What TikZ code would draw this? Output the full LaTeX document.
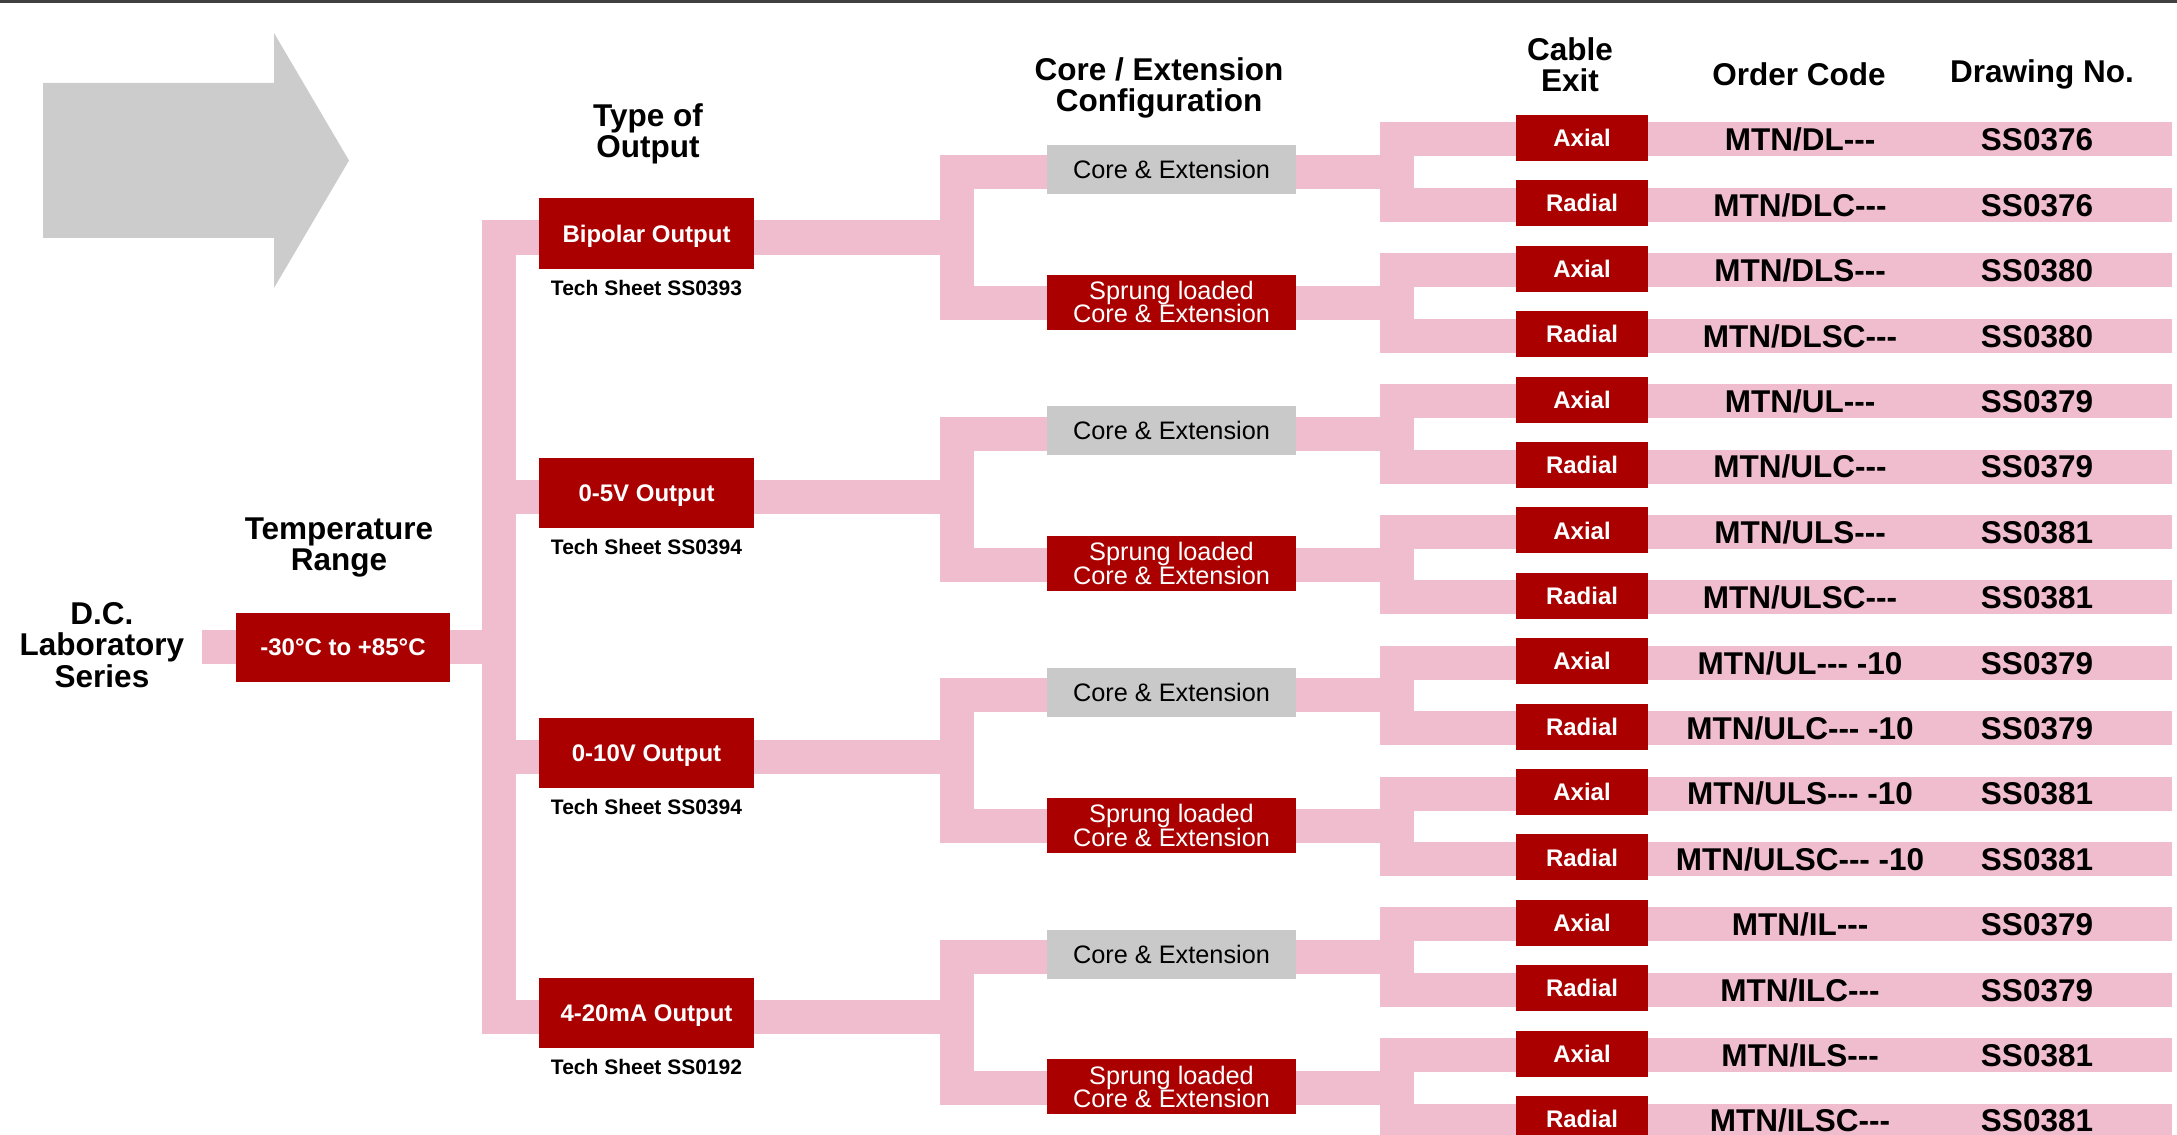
\documentclass[tikz,border=0pt]{standalone}
\usepackage{fontspec}
\setmainfont{Liberation Sans}[Ligatures=TeXOff]
\pgfdeclarelayer{background}
\pgfsetlayers{background,main}
\definecolor{boxred}{RGB}{170,0,0}
\definecolor{barpink}{RGB}{240,189,206}
\definecolor{cfggray}{RGB}{201,201,201}
\definecolor{arrowgray}{RGB}{204,204,204}
\begin{document}
\begin{tikzpicture}[x=0.5pt,y=-0.5pt,
  bar/.style={draw=barpink,line width=17pt,line cap=butt,line join=miter},
  boxtxt/.style={inner sep=0pt,font=\bfseries\fontsize{12}{12}\selectfont,text height=8.6pt,text depth=0pt},
  tempbox/.style={boxtxt,fill=boxred,text=white,minimum width=107pt,minimum height=34.5pt},
  outbox/.style={boxtxt,fill=boxred,text=white,minimum width=107.5pt,minimum height=35pt},
  cablebox/.style={boxtxt,fill=boxred,text=white,minimum width=66pt,minimum height=23pt},
  graybox/.style={inner sep=0pt,fill=cfggray,text=black,font=\fontsize{12.65}{12}\selectfont,text height=9.05pt,text depth=0pt,minimum width=124.5pt,minimum height=24.5pt},
  sprungbox/.style={inner sep=0pt,fill=boxred,text=white,align=center,font=\fontsize{12.65}{11.8}\selectfont,minimum width=124.5pt,minimum height=27.5pt},
  techtxt/.style={inner sep=0pt,font=\bfseries\fontsize{10.5}{10.5}\selectfont,text height=7.5pt,text depth=0pt},
  rowtxt/.style={inner sep=0pt,font=\bfseries\fontsize{15.75}{15.75}\selectfont,text height=11.3pt,text depth=0pt},
  header/.style={inner sep=0pt,anchor=north,align=center,font=\bfseries\fontsize{15.75}{15.75}\selectfont}]
\useasboundingbox (0,0) rectangle (2177,1134);
% top rule
\draw[black!75,line width=1.3pt] (0,1.3) -- (2177,1.3);
% big grey arrow
\fill[arrowgray] (43,83) -- (274,83) -- (274,33) -- (349,160.5) -- (274,288) -- (274,238) -- (43,238) -- cycle;

% headers
\node[header] (hdc) at (102,602) {D.C.\\Laboratory\\Series};
\node[header] (htemp) at (339,517) {Temperature\\Range};
\node[header] (hout) at (648,103) {Type of\\Output};
\node[header] (hcfg) at (1159,57) {Core / Extension\\Configuration};
\node[header] (hcab) at (1570,37) {Cable\\Exit};
\node[header] (hord) at (1799,62) {Order Code};
\node[header] (hdwg) at (2042,59) {Drawing No.};

% temperature
\node[tempbox] (temp) at (343,647) {-30°C to +85°C};
\coordinate (lstart) at (202,647);
\coordinate (trunk) at (498.5,647);

% outputs (bars run 4px below the box centres)
\node[outbox] (out0) at (646.5,233.5) {Bipolar Output};
\node[outbox] (out1) at (646.5,493) {0-5V Output};
\node[outbox] (out2) at (646.5,753) {0-10V Output};
\node[outbox] (out3) at (646.5,1013) {4-20mA Output};
\node[techtxt] (ts0) at (646.5,287.5) {Tech Sheet SS0393};
\node[techtxt] (ts1) at (646.5,547) {Tech Sheet SS0394};
\node[techtxt] (ts2) at (646.5,807) {Tech Sheet SS0394};
\node[techtxt] (ts3) at (646.5,1067) {Tech Sheet SS0192};
\coordinate (cv0) at (956.5,237.5);
\coordinate (cv1) at (956.5,497);
\coordinate (cv2) at (956.5,757);
\coordinate (cv3) at (956.5,1017);

% configurations (grey boxes sit 3px above their bars)
\foreach \k in {0,2,4,6}{
  \pgfmathsetmacro\yy{172.2+130.8*\k}
  \node[graybox] (cfg\k) at (1171.5,\yy-3) {Core \& Extension};
  \coordinate (rv\k) at (1397,\yy);
}
\foreach \k in {1,3,5,7}{
  \pgfmathsetmacro\yy{172.2+130.8*\k}
  \node[sprungbox] (cfg\k) at (1171.5,\yy-1) {Sprung loaded\\Core \& Extension};
  \coordinate (rv\k) at (1397,\yy);
}

% rows
\foreach \i/\cab/\code/\dwg in {
  0/Axial/{MTN/DL---}/SS0376,
  1/Radial/{MTN/DLC---}/SS0376,
  2/Axial/{MTN/DLS---}/SS0380,
  3/Radial/{MTN/DLSC---}/SS0380,
  4/Axial/{MTN/UL---}/SS0379,
  5/Radial/{MTN/ULC---}/SS0379,
  6/Axial/{MTN/ULS---}/SS0381,
  7/Radial/{MTN/ULSC---}/SS0381,
  8/Axial/{MTN/UL--- -10}/SS0379,
  9/Radial/{MTN/ULC--- -10}/SS0379,
  10/Axial/{MTN/ULS--- -10}/SS0381,
  11/Radial/{MTN/ULSC--- -10}/SS0381,
  12/Axial/{MTN/IL---}/SS0379,
  13/Radial/{MTN/ILC---}/SS0379,
  14/Axial/{MTN/ILS---}/SS0381,
  15/Radial/{MTN/ILSC---}/SS0381}{
  \pgfmathsetmacro\yy{139.5+65.4*\i}
  \node[cablebox] (cab\i) at (1582,\yy-1.5) {\cab};
  \node[rowtxt] (oc\i) at (1800,\yy) {\code};
  \node[rowtxt] (dn\i) at (2037,\yy) {\dwg};
  \coordinate (re\i) at (2172,\yy);
}

% connectors
\begin{pgfonlayer}{background}
  \draw[bar] (lstart) -- (temp.west);
  \draw[bar] (temp.east) -- (trunk);
  \foreach \j in {0,...,3}{
    \draw[bar] (trunk) |- ([yshift=-2pt]out\j.west);
    \draw[bar] ([yshift=-2pt]out\j.east) -- (cv\j);
  }
  \foreach \j/\a/\b in {0/0/1,1/2/3,2/4/5,3/6/7}{
    \draw[bar] (cv\j) |- ([yshift=-1.5pt]cfg\a.west);
    \draw[bar] (cv\j) |- ([yshift=-0.5pt]cfg\b.west);
  }
  \foreach \k/\a/\b in {0/0/1,2/4/5,4/8/9,6/12/13}{
    \draw[bar] ([yshift=-1.5pt]cfg\k.east) -- (rv\k);
    \draw[bar] (rv\k) |- (re\a);
    \draw[bar] (rv\k) |- (re\b);
  }
  \foreach \k/\a/\b in {1/2/3,3/6/7,5/10/11,7/14/15}{
    \draw[bar] ([yshift=-0.5pt]cfg\k.east) -- (rv\k);
    \draw[bar] (rv\k) |- (re\a);
    \draw[bar] (rv\k) |- (re\b);
  }
\end{pgfonlayer}
\end{tikzpicture}
\end{document}
